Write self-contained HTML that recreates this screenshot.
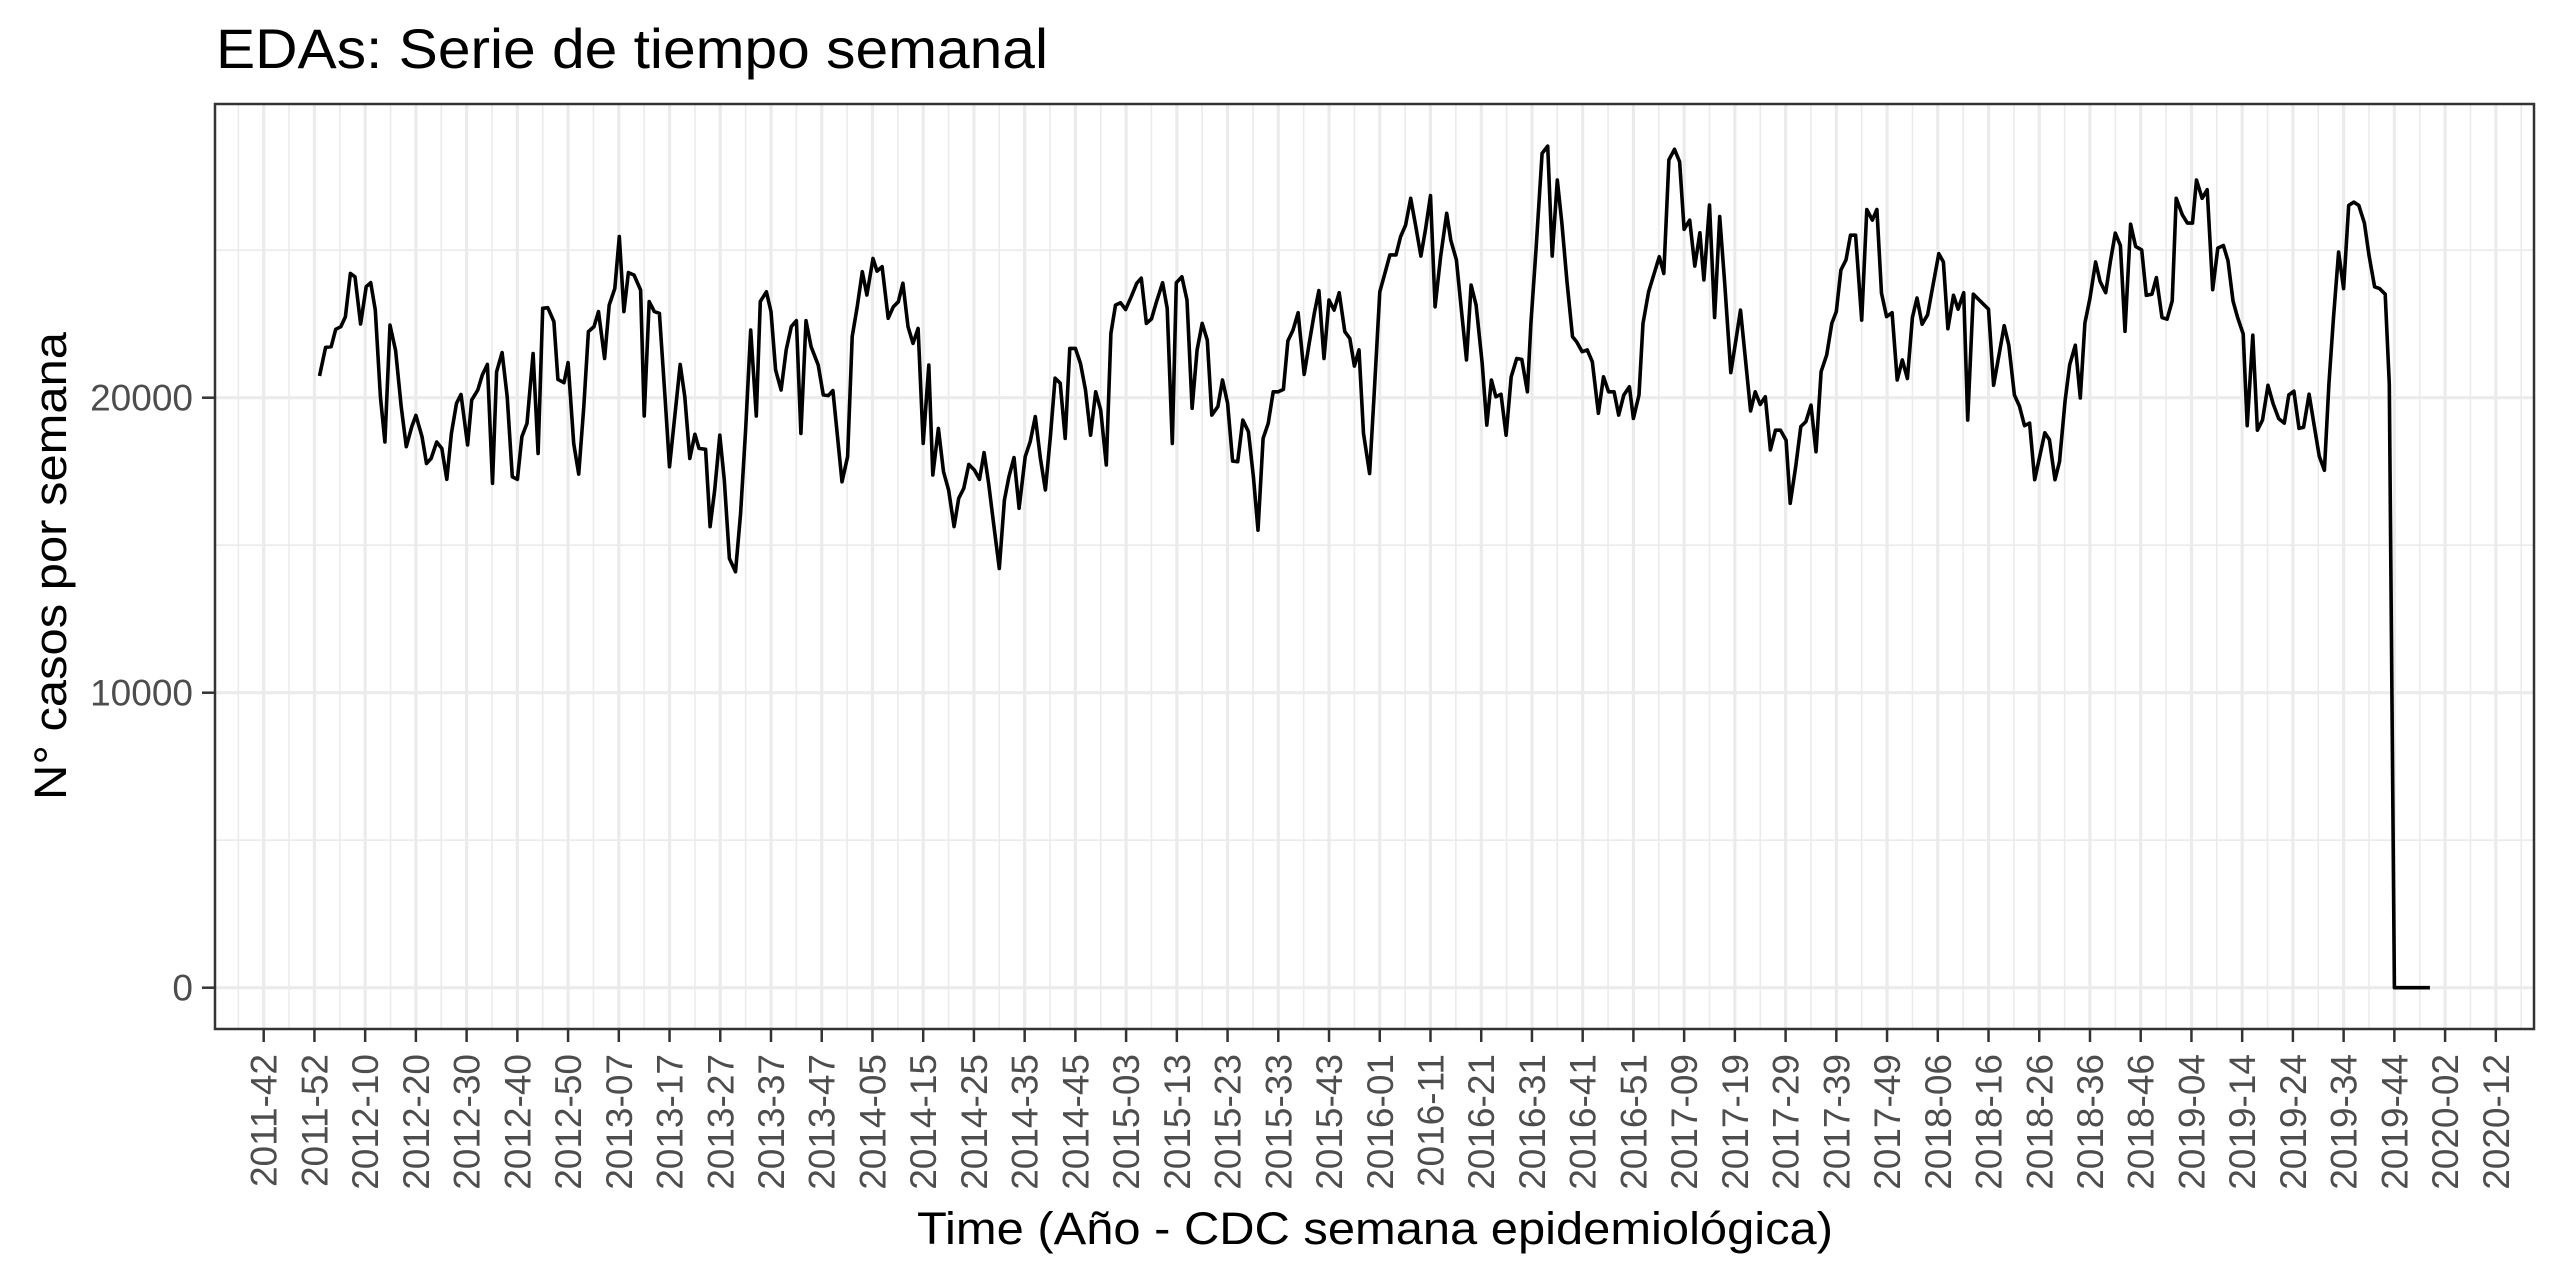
<!DOCTYPE html>
<html><head><meta charset="utf-8"><title>EDAs: Serie de tiempo semanal</title>
<style>html,body{margin:0;padding:0;background:#fff;}svg{display:block;font-family:"Liberation Sans",Arial,sans-serif;}</style>
</head><body>
<svg id="chart" xmlns="http://www.w3.org/2000/svg" width="2560" height="1280" viewBox="0 0 2560 1280">
<rect x="0" y="0" width="2560" height="1280" fill="#fff"/>
<text x="216" y="68" font-size="56" fill="#000" textLength="832" lengthAdjust="spacingAndGlyphs">EDAs: Serie de tiempo semanal</text>
<g id="grid"></g>
<g id="series"></g>
<rect x="215" y="104" width="2319" height="925" fill="none" stroke="#333" stroke-width="2.5"/>
<g id="yaxis"></g>
<g id="xaxis"></g>
<text x="1375" y="1244" font-size="45" fill="#000" text-anchor="middle" textLength="916" lengthAdjust="spacingAndGlyphs">Time (Año - CDC semana epidemiológica)</text>
<text transform="translate(66,566) rotate(-90)" font-size="45" fill="#000" text-anchor="middle" textLength="468" lengthAdjust="spacingAndGlyphs">N° casos por semana</text>
</svg>
<script>
const tickLabels = ["2011-42","2011-52","2012-10","2012-20","2012-30","2012-40","2012-50","2013-07","2013-17","2013-27","2013-37","2013-47","2014-05","2014-15","2014-25","2014-35","2014-45","2015-03","2015-13","2015-23","2015-33","2015-43","2016-01","2016-11","2016-21","2016-31","2016-41","2016-51","2017-09","2017-19","2017-29","2017-39","2017-49","2018-06","2018-16","2018-26","2018-36","2018-46","2019-04","2019-14","2019-24","2019-34","2019-44","2020-02","2020-12"];
const yTicks = [0,10000,20000];
const yMinor = [5000,15000,25000];
// week index (weeks since 2011-42) of each vertex
const weeks = [11,12.2,13.3,14.2,15.2,16.1,17.1,18,19.1,20.2,21.1,22,23,23.9,24.9,26,27.1,28.1,29.2,30,31.2,32.1,33,34.1,35.1,36.1,37,38,38.9,40.2,41,42.2,43.1,44.1,45.1,45.9,47,48,49,50,50.9,51.9,53.1,54.1,55,56,57.2,58,59.2,60,61.1,62.1,63.1,64,65.1,66,67.2,68.1,69.2,70.1,71,71.9,73,74.3,75,76,77,78,79.1,80,81.1,82.1,83,84,85,85.8,87.1,88,88.9,89.9,90.8,91.8,93,94,95,96,97.1,97.9,99.1,100,100.9,102,103,104,105,105.9,106.9,107.9,109.3,110.3,111.3,112.2,113.1,114,
115.1,116,117,118,118.9,120.1,120.9,121.9,123.1,124.1,125.1,126,127,128,129,130,131.1,131.9,133,134,135,136.1,137,138,139,140.1,141.1,142,142.9,144,145,146,146.9,147.9,148.9,150.1,151.1,152.1,153.1,154.1,155.1,156,157,158,158.9,160,161,162,163,164,165,166.1,167,167.9,168.9,169.9,171,172.1,173,174,175,176,177.2,178.1,179.1,179.9,181,182,183,184,185,186,186.9,188.1,189,190,191,192,193,194.1,195.1,196,197,198,199,200,201,201.9,202.9,203.9,205.1,206.1,207.1,208,209,210,211,212,213.1,214.1,215,215.9,216.8,218,218.9,
220,221.2,222,223.2,224.1,225.1,226.1,227.1,228.1,229,230,230.9,232,233.2,234,235.1,236.1,237.1,238,239,240.2,241.1,242,242.9,243.9,244.9,245.9,247,248,249.1,249.8,250.8,252,253.1,254,255,255.9,256.9,258,258.8,259.9,260.9,261.9,263.1,264.1,265.1,266.2,267.1,268.1,269.2,270,271.1,271.9,273,274,275.1,276,277,278.1,279.1,280,281.1,282.1,283.1,283.9,285,286,287,288,289.2,290.2,291.1,292.1,293.1,294,295,296,297,298,299,300.1,300.9,302,303,304,305,306,307,308.1,309.1,310,310.9,311.9,312.8,313.8,315,316,317.1,318,318.9,319.9,321,322,323,
324,325,325.9,326.9,328,329.1,330.2,331.1,332,333.1,334,335.1,335.9,337,340,341,343.1,344,345.1,346.1,347.1,348.1,349.1,351.1,352,353.1,354,355.1,356,357.1,358.1,359,360,361.1,362,363.1,364,365,366,366.9,368,369,370.2,371.1,372.2,373.1,374.2,375.2,376.2,377,378.2,379.2,380.2,381,382.1,383.1,384.2,385.2,386.3,387.2,388.2,389.1,390.2,391,392.1,393,394,395.1,396.1,397.2,398.3,399.2,400.2,401.2,402.1,403.2,404.2,405.2,406.2,407.1,408,409,410,411,412,413,414.1,415,416.1,417.1,418.2,419,420,427];
// weekly case counts at each vertex
const cases = [20735,21706,21729,22317,22407,22746,24215,24100,22497,23763,23900,22970,20034,18500,22460,21600,19700,18340,19020,19400,18680,17770,17940,18500,18280,17230,18790,19810,20110,18400,19920,20260,20770,21130,17100,20880,21530,20030,17320,17230,18680,19130,21500,18110,23030,23050,22580,20620,20510,21190,18450,17410,19700,22240,22410,22920,21330,23140,23700,25460,22920,24240,24160,23650,19380,23260,22920,22860,20030,17660,19470,21130,20030,17940,18760,18280,18250,15630,16870,18730,17210,14550,14100,16080,18900,22290,19380,23260,23590,22920,20940,20260,21620,22410,22610,18790,22610,21730,21110,20090,20070,20240,18680,17150,
18000,22070,23080,24270,23480,24720,24290,24440,22690,23080,23250,23880,22410,21840,22350,18450,21110,17380,18960,17490,16870,15630,16590,16930,17740,17550,17230,18140,17100,15570,14210,16530,17320,17970,16250,18000,18510,19360,17940,16870,18730,20660,20490,18620,21670,21670,21160,20260,18730,20200,19580,17720,22180,23140,23220,22990,23420,23880,24050,22520,22670,23250,23900,23030,18450,23900,24100,23310,19640,21620,22520,21950,19410,19700,20600,19810,17850,17830,19240,18850,17320,15510,18620,19130,20200,20200,20280,21930,22290,22880,20790,21840,22860,23630,21330,23310,22970,23560,22240,22010,21070,21620,18790,17430,20150,
23590,24330,24840,24840,25460,25850,26760,25800,24800,25680,26850,23080,24780,26250,25340,24670,22970,21280,23820,23140,21160,19070,20600,20030,20120,18730,20710,21330,21300,20200,22520,25010,28280,28530,24800,27380,25910,23930,22070,21900,21560,21620,21220,19470,20710,20200,20200,19410,20090,20370,19300,20090,22520,23590,24160,24780,24210,28060,28420,28000,25710,26020,24460,25590,23990,26530,22720,26140,23880,20850,21950,22970,21280,19550,20200,19770,20030,18230,18900,18900,18560,16420,17660,19020,19190,19750,18170,20880,21450,22520,22920,24330,24670,25510,25510,22630,26380,26020,26380,23540,22750,22880,20600,21280,
20650,22720,23380,22490,22810,23850,24880,24600,22340,23470,23000,23560,19240,23510,23000,20420,22440,21780,20090,19710,19050,19140,17220,18810,18580,17220,17830,19900,21120,21780,19990,22530,23380,24600,23940,23560,24600,25580,25160,22250,25880,25130,25010,23470,23510,24070,22720,22660,23280,26760,26200,25920,25920,27380,26760,27050,23660,25070,25160,24640,23280,22720,22160,19050,22120,18900,19240,20420,19800,19290,19140,20090,20220,18960,19000,20120,19050,18010,17540,20460,22720,24940,23700,26520,26630,26520,25920,24830,23760,23700,23510,20460,0,0];

const NS = "http://www.w3.org/2000/svg";
const PL = 215, PR = 2534, PT = 104, PB = 1029;
function xScale(t){ return 263.7 + t * 5.073; }
function yScale(v){ return 987.7 - v * 0.0295; }
function mk(tag, attrs, parent){ const e = document.createElementNS(NS, tag); for (const k in attrs) e.setAttribute(k, attrs[k]); parent.appendChild(e); return e; }

const grid = document.getElementById('grid');
const xa = document.getElementById('xaxis');
const ya = document.getElementById('yaxis');
mk('rect', {x:PL, y:PT, width:PR-PL, height:PB-PT, fill:'#fff'}, grid);
for (let i = 0; i <= tickLabels.length; i++) {
  const xm = xScale(i*10 - 5);
  if (xm > PL && xm < PR) {
    const l = mk('line', {x1:xm, x2:xm, y1:PT, y2:PB, stroke:'#EBEBEB', 'stroke-width':1.6}, grid);
    
    
  }
}
yMinor.forEach(v => {
  const y = yScale(v);
  const l = mk('line', {x1:PL, x2:PR, y1:y, y2:y, stroke:'#EBEBEB', 'stroke-width':1.6}, grid);
  
  
});
yTicks.forEach(v => {
  const y = yScale(v);
  const l = mk('line', {x1:PL, x2:PR, y1:y, y2:y, stroke:'#EBEBEB', 'stroke-width':3.2}, grid);
  
  
  const tk = mk('line', {x1:PL-13, x2:PL, y1:y, y2:y, stroke:'#333', 'stroke-width':2.5}, ya);
  
  
  const tx = mk('text', {x:PL-22, y:y+13, 'font-size':37, fill:'#4D4D4D', 'text-anchor':'end'}, ya);
  tx.textContent = String(v);
  
  
});
tickLabels.forEach((lab, i) => {
  const x = xScale(i*10);
  const l = mk('line', {x1:x, x2:x, y1:PT, y2:PB, stroke:'#EBEBEB', 'stroke-width':3.2}, grid);
  
  
  const tk = mk('line', {x1:x, x2:x, y1:PB, y2:PB+13, stroke:'#333', 'stroke-width':2.5}, xa);
  
  
  const tx = mk('text', {transform:'translate(' + (x+13) + ',' + (PB+25) + ') rotate(-90)', 'font-size':37, fill:'#4D4D4D', 'text-anchor':'end'}, xa);
  tx.textContent = lab;
  
  
});

const series = document.getElementById('series');
let d = '';
for (let i = 0; i < weeks.length; i++) {
  d += (i ? 'L' : 'M') + xScale(weeks[i]).toFixed(1) + ',' + yScale(cases[i]).toFixed(1);
}
const path = mk('path', {d:d, fill:'none', stroke:'#000', 'stroke-width':3.6, 'stroke-linejoin':'round'}, series);


</script>
</body></html>
